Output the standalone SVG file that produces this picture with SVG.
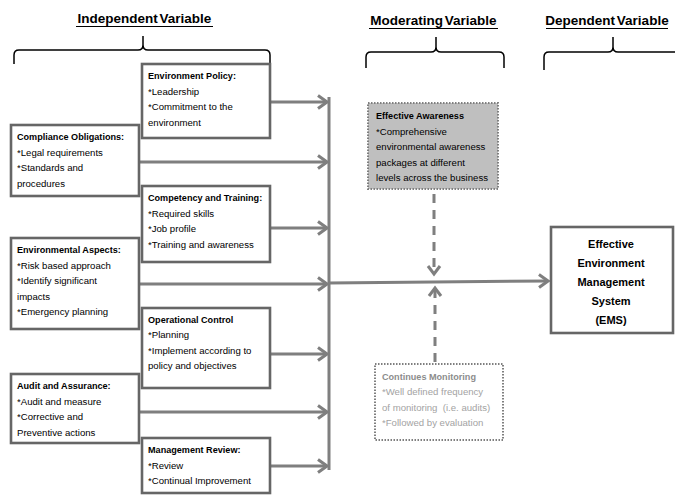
<svg xmlns="http://www.w3.org/2000/svg" width="675" height="498" viewBox="0 0 675 498">
<defs>
<style>
.hdr{font-family:"Liberation Sans",Arial,sans-serif;font-weight:bold;font-size:13.5px;fill:#000;word-spacing:-2px}
.ul{stroke:#000;stroke-width:1.2}
.brace{fill:none;stroke:#000;stroke-width:1.5}
.box{fill:#fff;stroke:#666;stroke-width:2.6}
.t{font-family:"Liberation Sans",Arial,sans-serif;font-size:9.6px;fill:#000}
.b{font-weight:bold;font-size:9.1px}
.ems{font-family:"Liberation Sans",Arial,sans-serif;font-weight:bold;font-size:11px;fill:#000;text-anchor:middle}
.conn{fill:none;stroke:#7f7f7f;stroke-width:3}
.dash{fill:none;stroke:#7f7f7f;stroke-width:3;stroke-dasharray:9 7}
.aw{fill:#bfbfbf;stroke:#7f7f7f;stroke-width:2;stroke-dasharray:1.5 1.5}
.mon{fill:#fff;stroke:#7f7f7f;stroke-width:2;stroke-dasharray:1.5 1.5}
.g{fill:#a3a3a3}
.gb{fill:#8c8c8c}
</style>
<marker id="arr" viewBox="-12 -9 14 18" refX="0" refY="0" markerWidth="14" markerHeight="18" markerUnits="userSpaceOnUse" orient="auto">
<path d="M-9,-6.5 L0,0 L-9,6.5" fill="none" stroke="#7f7f7f" stroke-width="3"/>
</marker>
</defs>
<rect width="675" height="498" fill="#fff"/>

<g id="headers">
<text class="hdr" x="144.5" y="23" text-anchor="middle">Independent Variable</text>
<line class="ul" x1="76" y1="26.5" x2="213" y2="26.5"/>
<path class="brace" d="M14,64 L14,55 Q14,50 19,50 L138,50 Q143,50 143,45 L143,36 M143,45 Q143,50 148,50 L265,50 Q270,50 270,55 L270,64"/>
<text class="hdr" x="433.5" y="25" text-anchor="middle">Moderating Variable</text>
<line class="ul" x1="369" y1="28.5" x2="498" y2="28.5"/>
<path class="brace" d="M366,68 L366,57 Q366,52 371,52 L431,52 Q436,52 436,47 L436,37 M436,47 Q436,52 441,52 L499,52 Q504,52 504,57 L504,68"/>
<text class="hdr" x="607" y="25" text-anchor="middle">Dependent Variable</text>
<line class="ul" x1="546" y1="28.5" x2="668" y2="28.5"/>
<path class="brace" d="M544,70 L544,57 Q544,52 549,52 L608,52 Q613,52 613,47 L613,37 M613,47 Q613,52 618,52 L675,52"/>
</g>

<g id="connectors">
<line class="conn" x1="329" y1="97" x2="329" y2="470"/>
<line class="conn" x1="270" y1="102" x2="327" y2="102" marker-end="url(#arr)"/>
<line class="conn" x1="139" y1="162" x2="327" y2="162" marker-end="url(#arr)"/>
<line class="conn" x1="270" y1="228" x2="327" y2="228" marker-end="url(#arr)"/>
<line class="conn" x1="139" y1="284" x2="327" y2="284" marker-end="url(#arr)"/>
<line class="conn" x1="270" y1="354" x2="327" y2="354" marker-end="url(#arr)"/>
<line class="conn" x1="139" y1="412" x2="327" y2="412" marker-end="url(#arr)"/>
<line class="conn" x1="270" y1="466" x2="327" y2="466" marker-end="url(#arr)"/>
<line class="conn" x1="329" y1="283" x2="548" y2="281" marker-end="url(#arr)"/>
<line class="dash" x1="434" y1="194" x2="434" y2="273"/>
<path d="M428,266 L434,274 L440,266" fill="none" stroke="#7f7f7f" stroke-width="3"/>
<line class="dash" x1="435" y1="362" x2="435" y2="290"/>
<path d="M429,296 L435,288 L441,296" fill="none" stroke="#7f7f7f" stroke-width="3"/>
</g>

<g id="environment-policy">
<rect class="box" x="142" y="64" width="128" height="74"/>
<text class="t b" x="148" y="79">Environment Policy:</text>
<text class="t" x="148" y="95">*Leadership</text>
<text class="t" x="148" y="110">*Commitment to the</text>
<text class="t" x="148" y="126">environment</text>
</g>

<g id="compliance-obligations">
<rect class="box" x="11" y="125" width="128" height="71"/>
<text class="t b" x="17" y="140">Compliance Obligations:</text>
<text class="t" x="17" y="156">*Legal requirements</text>
<text class="t" x="17" y="171">*Standards and</text>
<text class="t" x="17" y="187">procedures</text>
</g>

<g id="competency-training">
<rect class="box" x="142" y="186" width="128" height="76"/>
<text class="t b" x="148" y="201">Competency and Training:</text>
<text class="t" x="148" y="217">*Required skills</text>
<text class="t" x="148" y="232">*Job profile</text>
<text class="t" x="148" y="248">*Training and awareness</text>
</g>

<g id="environmental-aspects">
<rect class="box" x="11" y="238" width="128" height="91"/>
<text class="t b" x="17" y="253">Environmental Aspects:</text>
<text class="t" x="17" y="269">*Risk based approach</text>
<text class="t" x="17" y="284">*Identify significant</text>
<text class="t" x="17" y="300">impacts</text>
<text class="t" x="17" y="315">*Emergency planning</text>
</g>

<g id="operational-control">
<rect class="box" x="142" y="308" width="128" height="80"/>
<text class="t b" x="148" y="323">Operational Control</text>
<text class="t" x="148" y="338">*Planning</text>
<text class="t" x="148" y="354">*Implement according to</text>
<text class="t" x="148" y="369">policy and objectives</text>
</g>

<g id="audit-assurance">
<rect class="box" x="11" y="374" width="128" height="69"/>
<text class="t b" x="17" y="389">Audit and Assurance:</text>
<text class="t" x="17" y="405">*Audit and measure</text>
<text class="t" x="17" y="420">*Corrective and</text>
<text class="t" x="17" y="436">Preventive actions</text>
</g>

<g id="management-review">
<rect class="box" x="142" y="438" width="128" height="55"/>
<text class="t b" x="148" y="453">Management Review:</text>
<text class="t" x="148" y="469">*Review</text>
<text class="t" x="148" y="484">*Continual Improvement</text>
</g>

<g id="effective-awareness">
<rect class="aw" x="368" y="103" width="130" height="86"/>
<text class="t b" x="376" y="119">Effective Awareness</text>
<text class="t" x="376" y="135">*Comprehensive</text>
<text class="t" x="376" y="150">environmental awareness</text>
<text class="t" x="376" y="166">packages at different</text>
<text class="t" x="376" y="181">levels across the business</text>
</g>

<g id="continues-monitoring">
<rect class="mon" x="375" y="364" width="128" height="76"/>
<text class="t b gb" x="382" y="380">Continues Monitoring</text>
<text class="t g" x="382" y="395">*Well defined frequency</text>
<text class="t g" x="382" y="411" style="white-space:pre">of monitoring  (i.e. audits)</text>
<text class="t g" x="382" y="426">*Followed by evaluation</text>
</g>

<g id="ems">
<rect class="box" x="551" y="227" width="122" height="106"/>
<text class="ems" x="611" y="248">Effective</text>
<text class="ems" x="611" y="267">Environment</text>
<text class="ems" x="611" y="286">Management</text>
<text class="ems" x="611" y="305">System</text>
<text class="ems" x="611" y="324">(EMS)</text>
</g>
</svg>
